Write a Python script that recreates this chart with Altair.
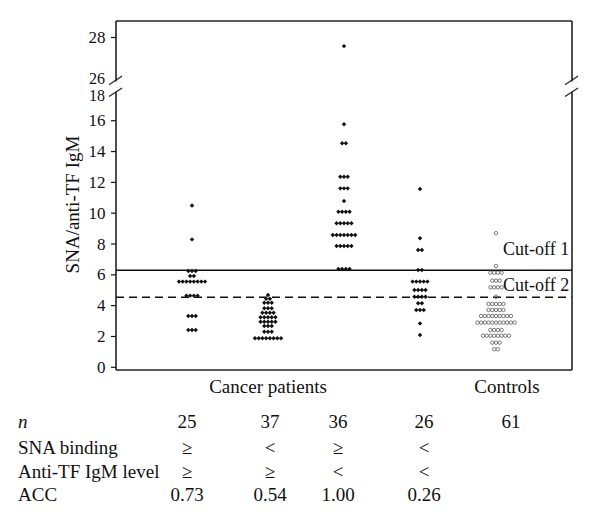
import altair as alt
import pandas as pd
from collections import Counter

# ---------------- data ----------------
group_ids = [1, 2, 3, 4, 5]
group_kind = ["case", "case", "case", "case", "control"]

g1 = [10.5, 8.3, 6.25, 6.25, 6.25, 5.92, 5.92,
      5.56, 5.56, 5.56, 5.56, 5.56, 5.56, 5.56, 5.56,
      4.65, 4.65, 4.65, 4.65, 3.33, 3.33, 3.33, 2.42, 2.42, 2.42]
g2 = [4.69, 4.45, 4.45, 4.19, 4.19, 4.19, 3.83, 3.83, 3.83,
      3.54, 3.54, 3.54, 3.54, 3.25, 3.25, 3.25, 3.25, 3.25,
      2.95, 2.95, 2.95, 2.95, 2.95, 2.68, 2.68, 2.68, 2.31, 2.31, 2.31,
      1.88, 1.88, 1.88, 1.88, 1.88, 1.88, 1.88, 1.88]
g3 = [27.6, 15.77, 14.54, 14.54, 12.37, 12.37, 12.37, 11.61, 11.61, 11.61,
      10.79, 10.1, 10.1, 10.1, 10.1, 9.34, 9.34, 9.34, 9.34, 9.34,
      8.59, 8.59, 8.59, 8.59, 8.59, 8.59, 8.59, 7.87, 7.87, 7.87, 7.87, 7.87,
      6.38, 6.38, 6.38, 6.38]
g4 = [11.57, 8.37, 7.61, 7.61, 6.31, 6.31, 5.56, 5.56, 5.56, 5.56, 5.56,
      5.02, 5.02, 5.02, 5.02, 4.58, 4.58, 4.58, 4.58, 4.15, 4.15,
      3.72, 3.72, 3.72, 2.85, 2.1]
g5 = [8.7, 6.57, 6.14, 6.14, 6.14, 6.14, 5.62, 5.62, 5.62,
      5.19, 5.19, 5.19, 5.19, 4.58, 4.11, 4.11, 4.11, 4.11, 4.11,
      3.72, 3.72, 3.72, 3.72, 3.72,
      3.33, 3.33, 3.33, 3.33, 3.33, 3.33, 3.33, 3.33, 3.33,
      2.9, 2.9, 2.9, 2.9, 2.9, 2.9, 2.9, 2.9, 2.9, 2.9, 2.9,
      2.42, 2.42, 2.42, 2.42,
      2.05, 2.05, 2.05, 2.05, 2.05, 2.05, 2.05, 2.05,
      1.6, 1.6, 1.6, 1.17, 1.17]
groups_values = [g1, g2, g3, g4, g5]

cutoff_values = [6.3, 4.55]
cutoff_names = ["Cut-off 1", "Cut-off 2"]
cutoff_label_y = [7.64, 5.28]

lower_ticks = [0, 2, 4, 6, 8, 10, 12, 14, 16]
upper_ticks = [28]
break_labels = ["18", "26"]

group_label_text = ["Cancer patients", "Controls"]
table_row_names = ["n", "SNA binding", "Anti-TF IgM level", "ACC"]
n_values = ["25", "37", "36", "26", "61"]
sna_values = ["≥", "<", "≥", "<", ""]
anti_values = ["≥", "≥", "<", "<", ""]
acc_values = ["0.73", "0.54", "1.00", "0.26", ""]

# ---------------- layout (pixels / styling) ----------------
W, H = 456, 349
X_DOMAIN = [0, 6]
Y_LO, Y_HI = -0.175, 22.47
GAP_T = 18.6        # position of 26 on the broken axis
UPPER_K = 1.40      # stretch of the upper segment
SP = 0.049          # horizontal dot spacing in x units
SERIF = "Liberation Serif"
OX, OY = 116, 21    # plot origin on the page
break_label_py = [95.5, 78.5]   # page y of the "18" and "26" labels

def t(v):
    return v if v <= 18 else GAP_T + (v - 26) * UPPER_K

rows = []
for gid, kind, vals in zip(group_ids, group_kind, groups_values):
    cnt = Counter(vals)
    seen = {}
    for v in vals:
        k = cnt[v]
        i = seen.get(v, 0)
        seen[v] = i + 1
        rows.append({"x": gid + (i - (k - 1) / 2) * SP, "y": t(v), "kind": kind, "value": v})
dots = pd.DataFrame(rows)

xs = alt.Scale(domain=X_DOMAIN, nice=False, zero=False)
ys = alt.Scale(domain=[Y_LO, Y_HI], nice=False, zero=False)

tick_vals = lower_ticks + [t(v) for v in upper_ticks]
yaxis = alt.Axis(
    values=tick_vals,
    labelExpr="datum.value > 21 ? '28' : format(datum.value, 'd')",
    ticks=False, domain=False, grid=False, labelOverlap=False,
    labelFont=SERIF, labelFontSize=17, labelColor="#111", labelPadding=11,
    title="SNA/anti-TF IgM", titleFont=SERIF, titleFontSize=19,
    titleFontWeight="normal", titleColor="#111",
    titleAngle=270, titleAlign="center", titleBaseline="middle",
    titleX=72 - OX, titleY=204 - OY,
)

def Y(field):
    return alt.Y(field, type="quantitative", scale=ys, axis=yaxis)

cases = alt.Chart(dots[dots["kind"] == "case"]).mark_point(
    shape="diamond", filled=True, color="#111", size=20, opacity=1
).encode(
    x=alt.X("x:Q", scale=xs, axis=None),
    y=Y("y"),
)
controls = alt.Chart(dots[dots["kind"] == "control"]).mark_point(
    shape="circle", filled=False, color="#444", size=12, strokeWidth=0.7, opacity=1
).encode(
    x=alt.X("x:Q", scale=xs, axis=None),
    y=Y("y"),
)

# tick marks (no ticks at the break)
tick_df = pd.DataFrame({"y": tick_vals})
ticks = alt.Chart(tick_df).mark_rule(color="#111", strokeWidth=1.2).encode(
    x=alt.value(-5), x2=alt.value(0), y=Y("y")
)

# labels at the break, drawn as text so they can sit apart
brk_df = pd.DataFrame({"text": break_labels, "py": [p - OY for p in break_label_py]})
brk_text = alt.Chart(brk_df).mark_text(
    align="right", baseline="middle", font=SERIF, fontSize=16, color="#111"
).encode(
    x=alt.value(-11), y=alt.Y("py:Q", scale=None, axis=None), text="text:N"
)

# frame with breaks
frame_df = pd.DataFrame([
    {"x": 0, "x2": 0, "y": Y_LO, "y2": 17.9},
    {"x": 0, "x2": 0, "y": 18.55, "y2": Y_HI},
    {"x": 6, "x2": 6, "y": Y_LO, "y2": 17.9},
    {"x": 6, "x2": 6, "y": 18.55, "y2": Y_HI},
    {"x": 0, "x2": 6, "y": Y_HI, "y2": Y_HI},
    {"x": 0, "x2": 6, "y": Y_LO, "y2": Y_LO},
])
frame = alt.Chart(frame_df).mark_rule(color="#222", strokeWidth=1.6).encode(
    x=alt.X("x:Q", scale=xs, axis=None), x2="x2:Q",
    y=Y("y"), y2="y2:Q",
)
slash_rows = []
for cx in [0, 6]:
    for cy in [17.85, 18.62]:
        slash_rows.append({"x": cx - 0.092, "x2": cx + 0.08, "y": cy - 0.28, "y2": cy + 0.28})
slashes = alt.Chart(pd.DataFrame(slash_rows)).mark_rule(color="#222", strokeWidth=1.2).encode(
    x=alt.X("x:Q", scale=xs, axis=None), x2="x2:Q",
    y=Y("y"), y2="y2:Q",
)

cut_df = pd.DataFrame({"y": cutoff_values, "x": [0, 0], "x2": [6, 6],
                       "name": cutoff_names, "ly": cutoff_label_y})
cut1 = alt.Chart(cut_df.iloc[[0]]).mark_rule(color="#111", strokeWidth=1.5).encode(
    x=alt.X("x:Q", scale=xs, axis=None), x2="x2:Q", y=Y("y"))
cut2 = alt.Chart(cut_df.iloc[[1]]).mark_rule(color="#111", strokeWidth=1.5, strokeDash=[8, 5]).encode(
    x=alt.X("x:Q", scale=xs, axis=None), x2="x2:Q", y=Y("y"))
cut_text = alt.Chart(cut_df).mark_text(
    align="left", baseline="middle", font=SERIF, fontSize=18, color="#111"
).encode(
    x=alt.value(503 - OX), y=Y("ly"), text="name:N"
)

# text below the plot (pixel positions)
col_px = [187, 270, 338, 424, 511]
row_py = [422, 448, 472, 495]
label_px = 18
grp_px = [268, 507]
grp_py = 387

txt_rows = []
for s, px in zip(group_label_text, grp_px):
    txt_rows.append({"px": px - OX, "py": grp_py - OY, "text": s, "al": "center"})
for r, name in enumerate(table_row_names[1:], start=1):
    txt_rows.append({"px": label_px - OX, "py": row_py[r] - OY, "text": name, "al": "left"})
for r, vals in enumerate([n_values, sna_values, anti_values, acc_values]):
    for v, px in zip(vals, col_px):
        if v:
            txt_rows.append({"px": px - OX, "py": row_py[r] - OY, "text": v, "al": "center"})
txt_df = pd.DataFrame(txt_rows)

txt_center = alt.Chart(txt_df[txt_df["al"] == "center"]).mark_text(
    align="center", baseline="middle", font=SERIF, fontSize=19, color="#111"
).encode(
    x=alt.X("px:Q", scale=None, axis=None), y=alt.Y("py:Q", scale=None, axis=None), text="text:N"
)
txt_left = alt.Chart(txt_df[txt_df["al"] == "left"]).mark_text(
    align="left", baseline="middle", font=SERIF, fontSize=19, color="#111"
).encode(
    x=alt.X("px:Q", scale=None, axis=None), y=alt.Y("py:Q", scale=None, axis=None), text="text:N"
)
n_df = pd.DataFrame({"px": [label_px - OX], "py": [row_py[0] - OY], "text": [table_row_names[0]]})
txt_n = alt.Chart(n_df).mark_text(
    align="left", baseline="middle", font=SERIF, fontSize=19, fontStyle="italic", color="#111"
).encode(
    x=alt.X("px:Q", scale=None, axis=None), y=alt.Y("py:Q", scale=None, axis=None), text="text:N"
)

chart = alt.layer(
    cut1, cut2, cases, controls, ticks, frame, slashes, brk_text, cut_text,
    txt_center, txt_left, txt_n
).properties(
    width=W, height=H,
    autosize=alt.AutoSizeParams(type="none"),
    padding={"left": OX - 8, "top": OY - 8, "right": 12, "bottom": 140},
    background="white",
).configure_view(stroke=None)

chart.save("out.html", embed_options={"renderer": "svg", "actions": False})
